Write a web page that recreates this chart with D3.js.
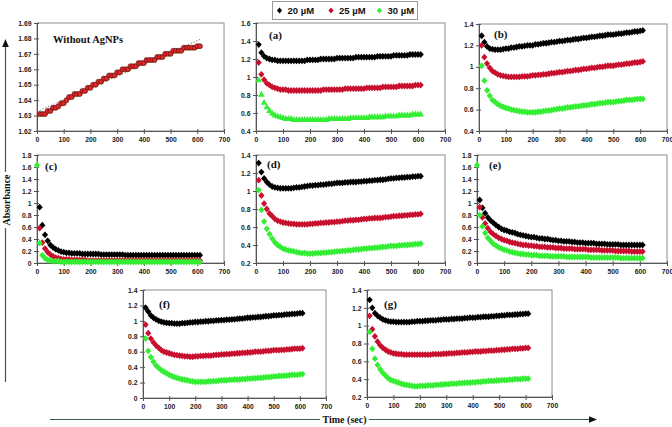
<!DOCTYPE html>
<html><head><meta charset="utf-8">
<script src="https://cdn.jsdelivr.net/npm/d3@7"></script>
<style>body{margin:0;background:#fff}svg{display:block}</style>
</head><body><svg id="c" width="672" height="427"></svg>
<script>
// ---------------- DATA ----------------
const times = [10,20,30,40,50,60,70,80,90,100,110,120,130,140,150,160,170,180,190,200,
210,220,230,240,250,260,270,280,290,300,310,320,330,340,350,360,370,380,390,400,
410,420,430,440,450,460,470,480,490,500,510,520,530,540,550,560,570,580,590,600,610];
const timesFrom0 = [0,10,20,30,40,50,60,70,80,90,100,110,120,130,140,150,160,170,180,190,200,
210,220,230,240,250,260,270,280,290,300,310,320,330,340,350,360,370,380,390,400,
410,420,430,440,450,460,470,480,490,500,510,520,530,540,550,560,570,580,590,600,610];
const xTicks = [0,100,200,300,400,500,600,700];
const seriesNames = ["20 µM","25 µM","30 µM"];
const panelLabels = ["Without AgNPs","(a)","(b)","(c)","(d)","(e)","(f)","(g)"];
const axisTitles = ["Absorbance","Time (sec)"];

const controlAbs = [1.631,1.631,1.631,1.633,1.633,1.635,1.635,1.636,1.638,1.638,
1.640,1.642,1.642,1.644,1.644,1.644,1.646,1.646,1.648,1.648,
1.650,1.650,1.652,1.652,1.654,1.654,1.656,1.656,1.656,1.658,
1.658,1.660,1.660,1.660,1.662,1.662,1.662,1.664,1.664,1.664,
1.666,1.666,1.666,1.666,1.668,1.668,1.668,1.670,1.670,1.670,
1.672,1.672,1.672,1.672,1.674,1.674,1.674,1.674,1.674,1.675,1.675];
const controlTrendTime = [0,612];
const controlTrendAbs = [1.6325,1.6795];

const ticks0 = [1.62,1.63,1.64,1.65,1.66,1.67,1.68,1.69];
const ticksA = [0.4,0.6,0.8,1,1.2,1.4,1.6];
const ticksB = [0.4,0.6,0.8,1,1.2,1.4];
const ticksC = [0,0.2,0.4,0.6,0.8,1,1.2,1.4,1.6,1.8];
const ticksD = [0.2,0.4,0.6,0.8,1,1.2,1.4];
const ticksE = [0,0.2,0.4,0.6,0.8,1,1.2,1.4,1.6,1.8];
const ticksF = [0,0.2,0.4,0.6,0.8,1,1.2,1.4];
const ticksG = [0.2,0.4,0.6,0.8,1,1.2,1.4];

const a20 = [1.36,1.27,1.23,1.21,1.20,1.19,1.19,1.18,1.18,1.18,
1.18,1.18,1.18,1.18,1.18,1.18,1.18,1.18,1.19,1.19,
1.19,1.19,1.19,1.20,1.20,1.20,1.20,1.20,1.20,1.21,
1.21,1.21,1.21,1.21,1.21,1.21,1.22,1.22,1.22,1.22,
1.22,1.22,1.22,1.22,1.23,1.23,1.23,1.23,1.23,1.23,
1.24,1.24,1.24,1.24,1.24,1.24,1.25,1.25,1.25,1.25,1.25];
const a25 = [1.16,1.03,0.97,0.93,0.91,0.89,0.88,0.87,0.86,0.86,
0.86,0.85,0.85,0.85,0.85,0.85,0.85,0.85,0.85,0.85,
0.85,0.85,0.85,0.85,0.86,0.86,0.86,0.86,0.86,0.86,
0.86,0.86,0.87,0.87,0.87,0.87,0.87,0.87,0.87,0.87,
0.88,0.88,0.88,0.88,0.88,0.88,0.89,0.89,0.89,0.89,
0.89,0.89,0.90,0.90,0.90,0.90,0.90,0.90,0.91,0.91,0.91];
const a30 = [0.97,0.81,0.72,0.67,0.63,0.60,0.58,0.57,0.56,0.55,
0.54,0.54,0.54,0.53,0.53,0.53,0.53,0.53,0.53,0.53,
0.53,0.53,0.53,0.53,0.53,0.53,0.54,0.54,0.54,0.54,
0.54,0.54,0.54,0.54,0.55,0.55,0.55,0.55,0.55,0.55,
0.55,0.56,0.56,0.56,0.56,0.56,0.56,0.57,0.57,0.57,
0.57,0.57,0.58,0.58,0.58,0.58,0.58,0.59,0.59,0.59,0.59];

const b20 = [1.29,1.23,1.19,1.17,1.165,1.16,1.16,1.16,1.165,1.17,
1.17,1.18,1.18,1.185,1.19,1.19,1.195,1.20,1.20,1.20,
1.21,1.21,1.215,1.22,1.22,1.225,1.23,1.23,1.235,1.24,
1.24,1.245,1.25,1.25,1.255,1.26,1.26,1.265,1.27,1.27,
1.275,1.28,1.28,1.285,1.29,1.29,1.295,1.30,1.30,1.30,
1.305,1.31,1.31,1.315,1.32,1.32,1.325,1.33,1.33,1.335,1.34];
const b25 = [1.20,1.09,1.03,0.99,0.96,0.945,0.93,0.92,0.915,0.91,
0.905,0.905,0.905,0.905,0.905,0.91,0.91,0.91,0.915,0.92,
0.92,0.925,0.925,0.93,0.93,0.935,0.94,0.94,0.945,0.95,
0.95,0.955,0.96,0.96,0.965,0.97,0.97,0.975,0.98,0.98,
0.985,0.99,0.99,0.995,1.00,1.00,1.005,1.01,1.01,1.01,
1.015,1.02,1.02,1.025,1.03,1.03,1.035,1.04,1.04,1.045,1.05];
const b30 = [1.01,0.87,0.78,0.73,0.69,0.67,0.65,0.635,0.625,0.615,
0.61,0.60,0.595,0.59,0.585,0.58,0.58,0.575,0.575,0.575,
0.575,0.58,0.58,0.585,0.59,0.59,0.595,0.60,0.605,0.61,
0.61,0.615,0.62,0.62,0.625,0.63,0.63,0.635,0.64,0.64,
0.645,0.65,0.65,0.655,0.66,0.66,0.665,0.67,0.67,0.67,
0.675,0.68,0.68,0.685,0.69,0.69,0.69,0.695,0.70,0.70,0.70];

const c20 = [0.93,0.63,0.47,0.37,0.30,0.26,0.23,0.21,0.19,0.18,
0.17,0.17,0.16,0.16,0.16,0.16,0.15,0.15,0.15,0.15,
0.15,0.15,0.15,0.14,0.14,0.14,0.14,0.14,0.14,0.14,
0.14,0.14,0.13,0.13,0.13,0.13,0.13,0.13,0.13,0.13,
0.13,0.13,0.13,0.13,0.13,0.13,0.13,0.13,0.13,0.13,
0.13,0.13,0.13,0.13,0.13,0.13,0.13,0.13,0.13,0.13,0.13];
const c25 = [0.58,0.34,0.24,0.18,0.14,0.11,0.09,0.08,0.07,0.06,
0.06,0.06,0.05,0.05,0.05,0.05,0.05,0.05,0.04,0.04,
0.04,0.04,0.04,0.04,0.04,0.04,0.04,0.04,0.04,0.04,
0.04,0.04,0.04,0.04,0.04,0.04,0.04,0.04,0.04,0.04,
0.04,0.04,0.04,0.04,0.04,0.04,0.04,0.04,0.04,0.04,
0.04,0.04,0.04,0.04,0.04,0.04,0.04,0.04,0.04,0.04,0.04];
const c30 = [1.63,
0.33,0.13,0.08,0.05,0.04,0.03,0.03,0.03,0.02,0.02,
0.02,0.02,0.02,0.02,0.02,0.02,0.02,0.02,0.02,0.02,
0.02,0.02,0.02,0.02,0.02,0.02,0.02,0.02,0.02,0.02,
0.02,0.02,0.02,0.02,0.02,0.02,0.02,0.02,0.02,0.02,
0.02,0.02,0.02,0.02,0.02,0.02,0.02,0.02,0.02,0.02,
0.02,0.02,0.02,0.02,0.02,0.02,0.02,0.02,0.02,0.02,0.02];

const d20 = [1.31,1.21,1.14,1.10,1.07,1.05,1.04,1.035,1.03,1.03,
1.03,1.03,1.03,1.035,1.04,1.04,1.045,1.05,1.055,1.06,
1.06,1.065,1.065,1.07,1.07,1.075,1.08,1.08,1.085,1.09,
1.09,1.09,1.095,1.095,1.10,1.10,1.10,1.105,1.105,1.11,
1.11,1.115,1.115,1.12,1.12,1.125,1.125,1.13,1.135,1.14,
1.14,1.145,1.145,1.15,1.15,1.155,1.155,1.16,1.16,1.165,1.165];
const d25 = [1.12,0.95,0.86,0.80,0.75,0.72,0.69,0.67,0.66,0.65,
0.645,0.64,0.635,0.635,0.63,0.63,0.63,0.63,0.63,0.635,
0.635,0.64,0.64,0.645,0.645,0.65,0.65,0.655,0.655,0.66,
0.66,0.665,0.67,0.67,0.675,0.675,0.68,0.68,0.685,0.69,
0.69,0.695,0.695,0.70,0.70,0.70,0.705,0.71,0.71,0.715,
0.72,0.72,0.725,0.725,0.73,0.73,0.735,0.735,0.74,0.74,0.745];
const d30 = [1.01,0.79,0.66,0.58,0.52,0.47,0.43,0.40,0.38,0.36,
0.35,0.34,0.335,0.33,0.32,0.315,0.31,0.31,0.305,0.305,
0.305,0.31,0.31,0.31,0.315,0.315,0.32,0.32,0.325,0.33,
0.33,0.335,0.335,0.34,0.34,0.345,0.35,0.35,0.355,0.36,
0.36,0.365,0.365,0.37,0.37,0.375,0.38,0.38,0.385,0.39,
0.39,0.39,0.395,0.395,0.40,0.40,0.405,0.405,0.41,0.41,0.415];

const e20 = [1.05,0.92,0.83,0.76,0.71,0.67,0.63,0.60,0.57,0.55,
0.54,0.52,0.51,0.50,0.48,0.47,0.46,0.45,0.44,0.43,
0.43,0.42,0.41,0.41,0.40,0.40,0.39,0.38,0.38,0.37,
0.37,0.36,0.36,0.36,0.35,0.35,0.34,0.34,0.34,0.33,
0.33,0.33,0.33,0.32,0.32,0.32,0.32,0.31,0.31,0.31,
0.31,0.31,0.30,0.30,0.30,0.30,0.30,0.30,0.30,0.30,0.30];
const e25 = [0.93,0.76,0.66,0.58,0.52,0.48,0.45,0.42,0.40,0.38,
0.37,0.35,0.34,0.33,0.32,0.31,0.30,0.30,0.29,0.29,
0.28,0.28,0.27,0.27,0.27,0.26,0.26,0.26,0.25,0.25,
0.25,0.24,0.24,0.24,0.24,0.23,0.23,0.23,0.23,0.23,
0.22,0.22,0.22,0.22,0.22,0.21,0.21,0.21,0.21,0.21,
0.20,0.20,0.20,0.20,0.20,0.20,0.19,0.19,0.19,0.19,0.19];
const e30 = [1.63,
0.80,0.61,0.50,0.42,0.37,0.32,0.29,0.26,0.24,0.22,
0.21,0.19,0.18,0.17,0.16,0.15,0.15,0.14,0.14,0.13,
0.13,0.13,0.12,0.12,0.12,0.12,0.11,0.11,0.11,0.11,
0.11,0.11,0.10,0.10,0.10,0.10,0.10,0.10,0.10,0.10,
0.10,0.09,0.09,0.09,0.09,0.09,0.09,0.09,0.09,0.09,
0.09,0.09,0.08,0.08,0.08,0.08,0.08,0.08,0.08,0.08,0.08];

const f20 = [1.17,1.12,1.07,1.04,1.02,1.00,0.99,0.98,0.975,0.97,
0.97,0.965,0.965,0.965,0.97,0.97,0.975,0.98,0.98,0.985,
0.985,0.99,0.99,0.995,0.995,1.00,1.00,1.005,1.005,1.01,
1.01,1.015,1.015,1.02,1.02,1.025,1.03,1.03,1.035,1.04,
1.04,1.045,1.045,1.05,1.05,1.055,1.06,1.06,1.065,1.07,
1.07,1.075,1.075,1.08,1.085,1.085,1.09,1.09,1.095,1.10,1.10];
const f25 = [0.95,0.84,0.77,0.72,0.68,0.65,0.62,0.60,0.59,0.58,
0.57,0.56,0.555,0.55,0.545,0.54,0.54,0.535,0.535,0.54,
0.54,0.545,0.545,0.55,0.55,0.55,0.555,0.56,0.56,0.565,
0.565,0.57,0.57,0.575,0.575,0.58,0.58,0.585,0.585,0.59,
0.59,0.595,0.60,0.60,0.60,0.605,0.61,0.61,0.615,0.62,
0.62,0.62,0.625,0.625,0.63,0.63,0.635,0.64,0.64,0.64,0.645];
const f30 = [0.77,0.61,0.53,0.47,0.42,0.39,0.36,0.34,0.32,0.30,
0.285,0.27,0.26,0.25,0.24,0.235,0.23,0.22,0.215,0.21,
0.21,0.21,0.21,0.21,0.215,0.215,0.22,0.22,0.225,0.23,
0.23,0.23,0.235,0.235,0.24,0.24,0.24,0.245,0.245,0.25,
0.25,0.255,0.255,0.26,0.26,0.265,0.27,0.27,0.275,0.28,
0.28,0.285,0.285,0.29,0.29,0.295,0.30,0.30,0.30,0.305,0.31];

const g20 = [1.29,1.20,1.14,1.11,1.09,1.07,1.06,1.05,1.045,1.045,
1.04,1.04,1.04,1.04,1.04,1.04,1.045,1.045,1.05,1.05,
1.05,1.055,1.055,1.06,1.06,1.06,1.065,1.065,1.07,1.07,
1.07,1.075,1.075,1.08,1.08,1.08,1.085,1.085,1.09,1.09,
1.09,1.095,1.095,1.10,1.10,1.10,1.105,1.105,1.11,1.11,
1.115,1.115,1.12,1.12,1.12,1.125,1.125,1.13,1.13,1.135,1.135];
const g25 = [1.11,0.96,0.88,0.82,0.78,0.75,0.73,0.71,0.70,0.69,
0.685,0.68,0.68,0.675,0.675,0.675,0.675,0.675,0.675,0.675,
0.675,0.675,0.675,0.675,0.68,0.68,0.68,0.68,0.685,0.685,
0.69,0.69,0.69,0.695,0.695,0.70,0.70,0.70,0.705,0.705,
0.71,0.71,0.71,0.715,0.715,0.72,0.72,0.72,0.725,0.725,
0.73,0.73,0.735,0.735,0.74,0.74,0.74,0.745,0.745,0.75,0.75];
const g30 = [0.93,0.74,0.63,0.56,0.51,0.47,0.44,0.41,0.39,0.38,
0.37,0.36,0.35,0.34,0.335,0.33,0.325,0.32,0.32,0.325,
0.325,0.325,0.33,0.33,0.33,0.335,0.335,0.34,0.34,0.345,
0.345,0.35,0.35,0.35,0.355,0.355,0.36,0.36,0.36,0.365,
0.365,0.37,0.37,0.375,0.375,0.38,0.38,0.38,0.385,0.385,
0.39,0.39,0.39,0.395,0.395,0.40,0.40,0.40,0.405,0.405,0.405];

// ---------------- LAYOUT / STYLE ----------------
const colors = ["#000000","#c8102e","#33ee33"];
const svg = d3.select("#c");
const tickFont = "Liberation Sans, Arial, sans-serif";
const serif = "Liberation Serif, Times New Roman, serif";

const panels = [
  {lab:0, x0:37,  x1:224, top:23,  bot:131, dom:[1.62,1.69], ticks:ticks0, control:true, lx:53, ly:43, lsize:10.5},
  {lab:1, x0:256, x1:445, top:23,  bot:131, dom:[0.4,1.6], ticks:ticksA, series:[a20,a25,a30], tri:true, lx:269, ly:39},
  {lab:2, x0:479, x1:667, top:24,  bot:131, dom:[0.4,1.4], ticks:ticksB, series:[b20,b25,b30], lx:494, ly:38},
  {lab:3, x0:37,  x1:224, top:155, bot:263, dom:[0,1.8], ticks:ticksC, series:[c20,c25,c30], lx:45, ly:170},
  {lab:4, x0:256, x1:445, top:155, bot:263, dom:[0.2,1.4], ticks:ticksD, series:[d20,d25,d30], lx:267, ly:168},
  {lab:5, x0:477, x1:667, top:155, bot:263, dom:[0,1.8], ticks:ticksE, series:[e20,e25,e30], lx:489, ly:169},
  {lab:6, x0:143, x1:326, top:290, bot:398, dom:[0,1.4], ticks:ticksF, series:[f20,f25,f30], lx:159, ly:308},
  {lab:7, x0:367, x1:552, top:290, bot:397, dom:[0.2,1.4], ticks:ticksG, series:[g20,g25,g30], lx:384, ly:308}
];

const diamond = "M0,-3.4L3.1,0L0,3.4L-3.1,0Z";
const triangle = "M0,-3.3L3.3,2.6L-3.3,2.6Z";
const fmt = v => String(+v.toFixed(3));

panels.forEach(p => {
  const x = d3.scaleLinear([0,700],[p.x0,p.x1]);
  const y = d3.scaleLinear(p.dom,[p.bot,p.top]);
  const g = svg.append("g");
  // frame
  g.append("rect").attr("x",p.x0).attr("y",p.top).attr("width",p.x1-p.x0).attr("height",p.bot-p.top)
    .attr("fill","none").attr("stroke","#8c8c8c").attr("stroke-width",1);
  // axes
  const ax = g.append("g").attr("transform",`translate(0,${p.bot})`)
    .call(d3.axisBottom(x).tickValues(xTicks).tickSizeInner(3).tickSizeOuter(0).tickFormat(d3.format("d")));
  ax.selectAll(".tick line").attr("y1",-2);
  const ay = g.append("g").attr("transform",`translate(${p.x0},0)`)
    .call(d3.axisLeft(y).tickValues(p.ticks).tickSizeInner(3).tickSizeOuter(0).tickFormat(fmt));
  ay.selectAll(".tick line").attr("x1",2);
  [ax,ay].forEach(a => {
    a.select(".domain").attr("stroke","#555");
    a.selectAll(".tick line").attr("stroke","#555");
    a.selectAll("text").attr("font-family",tickFont).attr("font-weight","bold")
      .attr("font-size",6.8).attr("fill","#222");
  });
  ax.selectAll("text").attr("y",6.5);
  ay.selectAll("text").attr("x",-5.5);

  if (p.control) {
    g.append("path").datum(times.map((t,i)=>[t,controlAbs[i]]))
      .attr("d", d3.line().x(d=>x(d[0])).y(d=>y(d[1])+1.5))
      .attr("fill","none").attr("stroke","#f3ea7a").attr("stroke-width",3).attr("opacity",0.8);
    g.append("path").datum(controlTrendTime.map((t,i)=>[t,controlTrendAbs[i]]))
      .attr("d", d3.line().x(d=>x(d[0])).y(d=>y(d[1])))
      .attr("fill","none").attr("stroke","#777").attr("stroke-width",0.9).attr("stroke-dasharray","1.5,1.5");
    g.selectAll("circle.pt").data(times.map((t,i)=>[t,controlAbs[i]])).join("circle")
      .attr("cx",d=>x(d[0])).attr("cy",d=>y(d[1])).attr("r",2.5)
      .attr("fill","#e0282c").attr("stroke","#4a0a0a").attr("stroke-width",0.6);
  } else {
    p.series.forEach((vals,si) => {
      const tArr = vals.length === timesFrom0.length ? timesFrom0 : times;
      const pts = tArr.map((t,i)=>[t,vals[i]]);
      const shape = (p.tri && si===2) ? triangle : diamond;
      g.selectAll(null).data(pts).join("path")
        .attr("d",shape).attr("transform",d=>`translate(${x(d[0])},${y(d[1])})`)
        .attr("fill",colors[si]);
    });
  }
  // panel label
  g.append("text").attr("x",p.lx).attr("y",p.ly).text(panelLabels[p.lab])
    .attr("font-family",serif).attr("font-weight","bold").attr("font-size",p.lsize||11).attr("fill","#111");
});

// legend
const lg = svg.append("g");
lg.append("rect").attr("x",272.5).attr("y",1.5).attr("width",145).attr("height",18)
  .attr("fill","#fff").attr("stroke","#9a9a9a");
const legX = [279.5,331,379.5];
seriesNames.forEach((n,i)=>{
  lg.append("path").attr("d",diamond).attr("transform",`translate(${legX[i]},10.5) scale(0.85)`).attr("fill",colors[i]);
  lg.append("text").attr("x",legX[i]+8).attr("y",14).text(n)
    .attr("font-family",tickFont).attr("font-weight","bold").attr("font-size",9.5).attr("fill","#111");
});

// axis arrows
const arrowCol = "#3d5a5a";
svg.append("line").attr("x1",5.5).attr("x2",5.5).attr("y1",46).attr("y2",382).attr("stroke",arrowCol).attr("stroke-width",1.2);
svg.append("path").attr("d","M5.5,39L2.2,47L8.8,47Z").attr("fill","#111");
svg.append("rect").attr("x",0).attr("y",172).attr("width",12).attr("height",56).attr("fill","#fff");
svg.append("text").attr("transform","translate(9.5,200) rotate(-90)").attr("text-anchor","middle")
  .text(axisTitles[0]).attr("font-family",serif).attr("font-weight","bold").attr("font-size",10).attr("fill","#111");

svg.append("line").attr("x1",50).attr("x2",590).attr("y1",419.5).attr("y2",419.5).attr("stroke",arrowCol).attr("stroke-width",1.2);
svg.append("path").attr("d","M597,419.5L589,416.2L589,422.8Z").attr("fill","#111");
svg.append("rect").attr("x",320).attr("y",412).attr("width",49).attr("height",14).attr("fill","#fff");
svg.append("text").attr("x",344.5).attr("y",423).attr("text-anchor","middle")
  .text(axisTitles[1]).attr("font-family",serif).attr("font-weight","bold").attr("font-size",10).attr("fill","#111");
</script></body></html>
